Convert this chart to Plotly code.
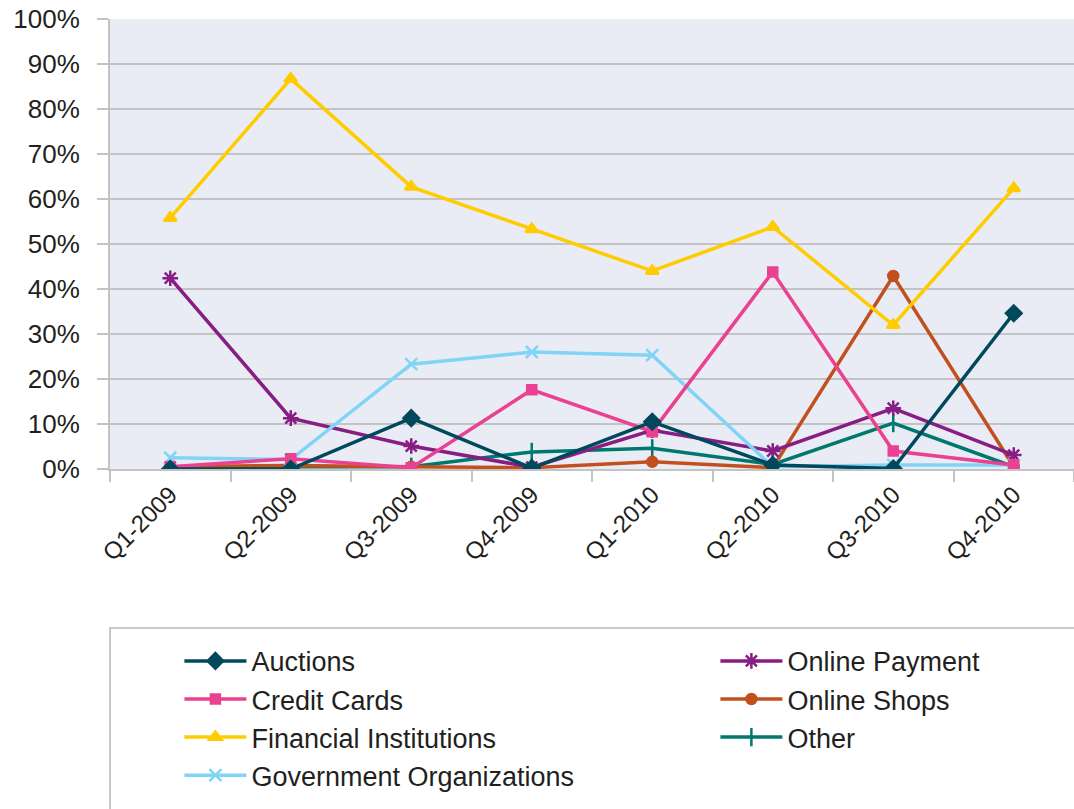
import plotly.graph_objects as go

quarters = ["Q1-2009", "Q2-2009", "Q3-2009", "Q4-2009",
            "Q1-2010", "Q2-2010", "Q3-2010", "Q4-2010"]

auctions = [0.0, 0.0, 11.3, 0.2, 10.5, 0.9, 0.1, 34.6]
credit_cards = [0.5, 2.3, 0.3, 17.6, 8.3, 43.8, 4.0, 0.9]
financial_institutions = [55.8, 86.7, 62.7, 53.3, 44.0, 53.8, 32.0, 62.4]
government_organizations = [2.5, 2.1, 23.3, 26.0, 25.3, 0.5, 0.9, 0.9]
online_payment = [42.4, 11.3, 5.1, 0.4, 8.6, 4.0, 13.5, 3.1]
online_shops = [0.5, 0.8, 0.5, 0.3, 1.6, 0.3, 42.9, 0.5]
other = [0.2, 0.5, 0.5, 3.8, 4.6, 1.0, 10.2, 0.5]

# name, values, colour, marker symbol, marker size, legend, rank
series = [
    ("Auctions", auctions, "#00485C", "diamond", 12, "legend", 1),
    ("Credit Cards", credit_cards, "#EA4191", "square", 9, "legend", 2),
    ("Financial Institutions", financial_institutions, "#FFCC00", "triangle-up", 11, "legend", 3),
    ("Government Organizations", government_organizations, "#80D4F6", "x-thin-open", 12, "legend", 4),
    ("Online Payment", online_payment, "#881D84", "asterisk-open", 13, "legend2", 1),
    ("Online Shops", online_shops, "#C1501E", "circle", 10, "legend2", 2),
    ("Other", other, "#00786E", "line-ns-open", 13, "legend2", 3),
]

font_family = "Liberation Sans, Arial, sans-serif"
text_color = "#231F20"
grid_color = "#C3C3C5"

fig = go.Figure()
# later series first so that Auctions ends up drawn on top
for name, vals, color, symbol, size, leg, rank in reversed(series):
    fig.add_trace(go.Scatter(
        x=quarters,
        y=[v / 100 for v in vals],
        name=name,
        mode="lines+markers",
        line=dict(color=color, width=3.5),
        marker=dict(symbol=symbol, size=size, color=color,
                    line=dict(color=color, width=2.5)),
        legend=leg,
        legendrank=rank,
    ))

legend_font = dict(family=font_family, size=27, color=text_color)

fig.update_layout(
    width=1074,
    height=809,
    margin=dict(l=110, r=0, t=19, b=340),
    paper_bgcolor="white",
    plot_bgcolor="#EAECF5",
    font=dict(family=font_family, size=24, color=text_color),
    showlegend=True,
    legend=dict(
        x=0.072, y=-0.373, xanchor="left", yanchor="top",
        orientation="v", traceorder="normal",
        itemwidth=62,
        bgcolor="rgba(0,0,0,0)",
        font=legend_font,
    ),
    legend2=dict(
        x=0.628, y=-0.373, xanchor="left", yanchor="top",
        orientation="v", traceorder="normal",
        itemwidth=62,
        bgcolor="rgba(0,0,0,0)",
        font=legend_font,
    ),
)

fig.update_xaxes(
    type="category",
    range=[-0.5, 7.5],
    showgrid=False,
    showline=True, linecolor=grid_color, linewidth=2,
    ticks="outside", tickson="boundaries", ticklen=11, tickwidth=2,
    tickcolor=grid_color,
    tickangle=-45,
    tickfont=dict(size=24, color=text_color),
)

fig.update_yaxes(
    range=[0, 1],
    dtick=0.1,
    tickformat=".0%",
    showgrid=True, gridcolor=grid_color, gridwidth=2,
    zeroline=False,
    showline=True, linecolor=grid_color, linewidth=2,
    ticks="outside", ticklen=11, tickwidth=2, tickcolor=grid_color,
    ticklabelstandoff=12,
    tickfont=dict(size=26, color=text_color),
)

# frame around the legend area
fig.add_shape(
    type="rect", xref="paper", yref="paper",
    x0=0, x1=1.2, y0=-0.3533, y1=-1.2,
    line=dict(color="#C8C8C8", width=2),
    fillcolor="rgba(0,0,0,0)",
    layer="below",
)

fig.write_html("out.html")
